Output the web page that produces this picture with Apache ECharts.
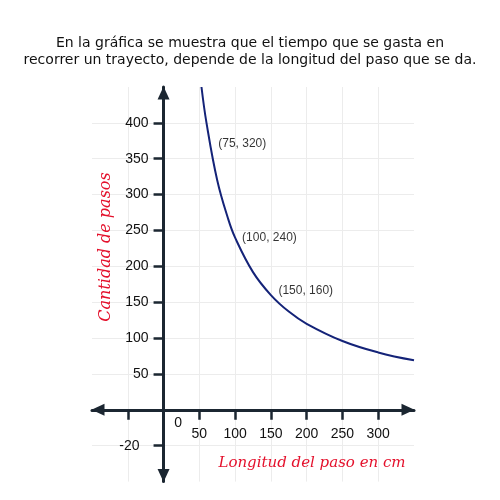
<!DOCTYPE html>
<html>
<head>
<meta charset="utf-8">
<script src="https://cdn.jsdelivr.net/npm/echarts@6/dist/echarts.min.js"></script>
<style>html,body{margin:0;padding:0;background:#fff}#c{width:500px;height:500px}</style>
</head>
<body>
<div id="c"></div>
<script>
// Curve values
const curveX = [53, 60, 75, 90, 100, 125, 150, 175, 200, 250, 300, 350];
const curveY = [450, 400, 320, 267, 240, 192, 160, 137, 120, 96, 80, 69];
// Labelled points
const pointX = [75, 100, 150];
const pointY = [320, 240, 160];
// Axis ticks / labels
const xTickValues = [-50, 50, 100, 150, 200, 250, 300];
const xLabelValues = [50, 100, 150, 200, 250, 300];
const yTickValues = [-50, 50, 100, 150, 200, 250, 300, 350, 400];
const yLabelValues = [-50, 50, 100, 150, 200, 250, 300, 350, 400];
const yLabelText = {"-50": "-20"};
const titleLines = ["En la gráfica se muestra que el tiempo que se gasta en", "recorrer un trayecto, depende de la longitud del paso que se da."];
const xName = "Longitud del paso en cm";
const yName = "Cantidad de pasos";

const axisColor = '#1b2631';
const textColor = '#111111';
const chart = echarts.init(document.getElementById('c'), null, {renderer: 'canvas'});

const G = {left: 92, right: 86, top: 87, bottom: 18.4};
const xMin = -100, xMax = 350, yMin = -100, yMax = 450;
const plotW = 500 - G.left - G.right, plotH = 500 - G.top - G.bottom;
// place axes through the origin by offsetting them from the grid edges
const xAxisOffset = -(0 - yMin) / (yMax - yMin) * plotH;
const yAxisOffset = -(0 - xMin) / (xMax - xMin) * plotW;

const labelOffsets = [[1, -37], [7, 0], [7.5, -4]];
const pts = pointX.map((x, i) => ({
  value: [x, pointY[i]],
  label: {position: labelOffsets[i]}
}));

const option = {
  animation: false,
  title: {
    text: titleLines.join('\n'),
    left: 'center',
    top: 30,
    textStyle: {fontFamily: 'DejaVu Sans', fontSize: 14, fontWeight: 'normal', color: textColor, lineHeight: 17}
  },
  grid: Object.assign({outerBoundsMode: 'none', containLabel: false}, G),
  xAxis: {
    type: 'value', min: xMin, max: xMax, interval: 50, position: 'bottom', offset: xAxisOffset,
    axisLine: {onZero: false, symbol: ['triangle', 'triangle'], symbolSize: [12, 13], symbolOffset: [6, -6],
      lineStyle: {color: axisColor, width: 3}},
    axisTick: {show: true, customValues: xTickValues, length: 10, lineStyle: {color: axisColor, width: 2.5}},
    axisLabel: {customValues: xLabelValues, margin: 17, fontSize: 14, fontFamily: 'Liberation Sans', color: textColor},
    splitLine: {show: true, lineStyle: {color: '#ececec', width: 1}}
  },
  yAxis: {
    type: 'value', min: yMin, max: yMax, interval: 50, position: 'left', offset: yAxisOffset,
    axisLine: {onZero: false, symbol: ['triangle', 'triangle'], symbolSize: [12, 13], symbolOffset: [6, -6],
      lineStyle: {color: axisColor, width: 3}},
    axisTick: {show: true, customValues: yTickValues, length: 10, lineStyle: {color: axisColor, width: 2.5}},
    axisLabel: {customValues: yLabelValues, margin: 15, fontSize: 14, fontFamily: 'Liberation Sans', color: textColor,
      formatter: v => yLabelText[String(v)] !== undefined ? '{n|' + yLabelText[String(v)] + '}' : String(v),
      rich: {n: {fontSize: 14, fontFamily: 'Liberation Sans', color: textColor, padding: [0, 9, 0, 0]}}},
    splitLine: {show: true, lineStyle: {color: '#ececec', width: 1}}
  },
  series: [
    {
      type: 'line', data: curveX.map((x, i) => [x, curveY[i]]), smooth: 0.4, showSymbol: false,
      lineStyle: {color: '#142378', width: 2}, z: 3
    },
    {
      type: 'scatter', data: pts, symbolSize: 0, z: 4,
      label: {show: true, align: 'left', verticalAlign: 'middle', fontSize: 12, fontFamily: 'Liberation Sans', color: '#000',
        formatter: p => '(' + p.value[0] + ', ' + p.value[1] + ')'}
    }
  ]
};
chart.setOption(option);

const o = chart.convertToPixel({gridIndex: 0}, [0, 0]);
chart.setOption({
  graphic: [
    {type: 'text', style: {text: '0', x: o[0] + 14.5, y: o[1] + 13, align: 'center', verticalAlign: 'middle', fontSize: 14, fontFamily: 'Liberation Sans', fill: textColor}},
    {type: 'text', style: {text: xName, x: 312, y: 463, align: 'center', verticalAlign: 'middle', fontSize: 15, fontStyle: 'italic', fontFamily: 'DejaVu Serif', fill: '#e4112c'}},
    {type: 'text', x: 106, y: 247, rotation: Math.PI / 2, style: {text: yName, x: 0, y: 0, align: 'center', verticalAlign: 'middle', fontSize: 16, fontStyle: 'italic', fontFamily: 'DejaVu Serif', fill: '#e4112c'}}
  ]
});
</script>
</body>
</html>
